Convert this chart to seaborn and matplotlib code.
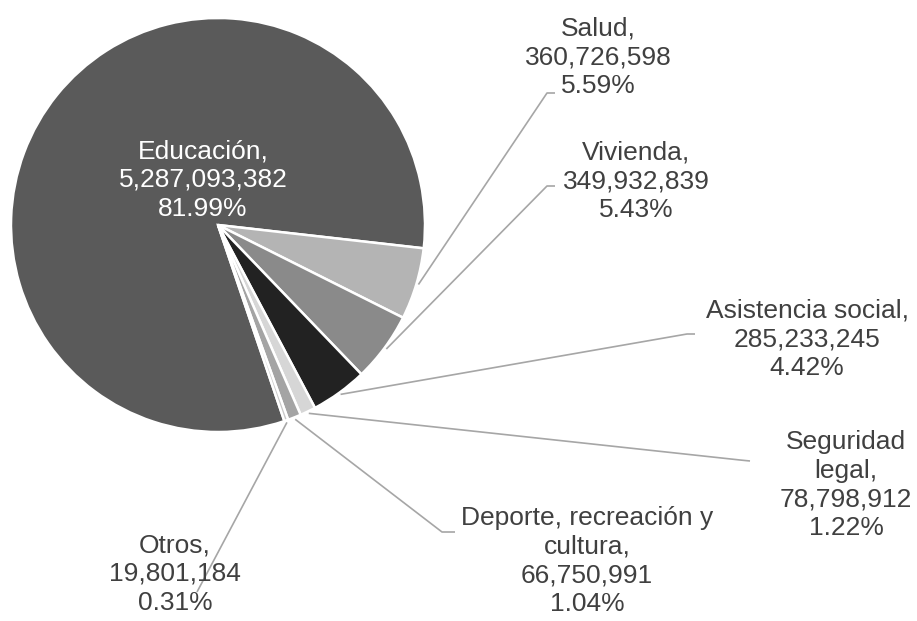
import numpy as np
import seaborn as sns
import matplotlib.pyplot as plt

# data
sectores = ["Educación", "Salud", "Vivienda", "Asistencia social",
            "Seguridad\nlegal", "Deporte, recreación y\ncultura", "Otros"]
montos = [5287093382, 360726598, 349932839, 285233245,
          78798912, 66750991, 19801184]

# styling / layout (pixel coords, y from top)
grises = ["#5a5a5a", "#b4b4b4", "#8a8a8a", "#222222",
          "#d6d6d6", "#a4a4a4", "#c8c8c8"]
centro_px = (218, 225)
radio_px = 207
label_pos = [(203, 180), (598, 57), (636, 181), (807, 339),
             (846, 485), (587, 561), (175, 574)]
# knee and end of each leader line (None for the inside label)
leader_end = [None,
              [(547, 93), (555, 93)],
              [(547, 186), (555, 186)],
              [(687, 334), (695, 334)],
              [(740, 460), (750, 461)],
              [(442, 532), (455, 532)],
              [(197, 592)]]

W, H = 917, 621


def fy(y):
    return H - y


sns.set_style("white")
plt.rcParams['font.family'] = ['Liberation Sans', 'DejaVu Sans']

fig = plt.figure(figsize=(W / 100, H / 100), dpi=100)
ax = fig.add_axes([0, 0, 1, 1])

cx, cy = centro_px[0], fy(centro_px[1])
wedges, _ = ax.pie(montos, colors=sns.color_palette(grises),
                   startangle=-71.3, counterclock=False,
                   center=(cx, cy), radius=radio_px,
                   wedgeprops=dict(edgecolor="white", linewidth=1.8))
ax.set_xlim(0, W)
ax.set_ylim(0, H)
ax.set_aspect("equal")
ax.axis("off")

total = sum(montos)
for i, (w, nombre, m) in enumerate(zip(wedges, sectores, montos)):
    pct = m / total * 100
    txt = f"{nombre},\n{m:,}\n{pct:.2f}%"
    lx, ly = label_pos[i]
    col = "white" if i == 0 else "#404040"
    ax.text(lx, fy(ly), txt, ha="center", va="center", multialignment="center",
            fontsize=19, color=col, linespacing=1.25)
    if leader_end[i] is None:
        continue
    ang = np.deg2rad((w.theta1 + w.theta2) / 2)
    xs = [cx + 1.01 * radio_px * np.cos(ang)]
    ys = [cy + 1.01 * radio_px * np.sin(ang)]
    for px, py in leader_end[i]:
        xs.append(px)
        ys.append(fy(py))
    ax.plot(xs, ys, color="#a6a6a6", lw=1.2, solid_capstyle="butt")

fig.savefig("out.png", dpi=100, facecolor="white")
